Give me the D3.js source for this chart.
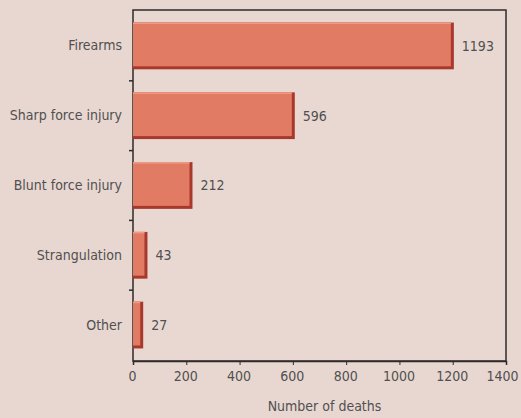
<!DOCTYPE html>
<html><head><meta charset="utf-8">
<script src="https://cdn.jsdelivr.net/npm/d3@7"></script>
<style>
html,body{margin:0;padding:0;background:#e8d7d0;}
svg{display:block;}
text{font-family:"Liberation Sans Narrow","DejaVu Sans Condensed","Liberation Sans",sans-serif;fill:#505050;}
</style></head>
<body>
<svg id="chart" width="521" height="418"></svg>
<script>
const categories = ["Firearms","Sharp force injury","Blunt force injury","Strangulation","Other"];
const values = [1193, 596, 212, 43, 27];
const xTicks = [0,200,400,600,800,1000,1200,1400];
const xTitle = "Number of deaths";

const svg = d3.select("#chart");
const W = 521, H = 418;
const m = {left:133, right:15, top:10, bottom:57};
const x = d3.scaleLinear().domain([0,1400]).range([m.left, W - m.right]);
const y = d3.scaleBand().domain(categories).range([m.top, H - m.bottom]).paddingInner(0.33).paddingOuter(0.18);

svg.append("rect").attr("width",W).attr("height",H).attr("fill","#e8d7d0");

const g = svg.append("g");
g.append("rect").attr("x",x(0)).attr("y",m.top).attr("width",x(1400)-x(0)).attr("height",(H-m.bottom)-m.top)
  .attr("fill","#e9d8d2").attr("stroke","#2e2a2a").attr("stroke-width",1.5);

const bars = g.selectAll(".bar").data(categories.map((c,i)=>({c, v:values[i]}))).enter().append("g");
bars.append("rect").attr("x",x(0)).attr("y",d=>y(d.c)).attr("width",d=>x(d.v)-x(0)+3).attr("height",y.bandwidth())
  .attr("fill","#a9382c");
bars.append("rect").attr("x",x(0)).attr("y",d=>y(d.c)).attr("width",d=>x(d.v)-x(0)).attr("height",y.bandwidth()-3)
  .attr("fill","#e27b63");
bars.append("rect").attr("x",x(0)).attr("y",d=>y(d.c)).attr("width",d=>x(d.v)-x(0)).attr("height",1.5)
  .attr("fill","#ee9c85");
bars.append("text").attr("x",d=>x(d.v)+11).attr("y",d=>y(d.c)+y.bandwidth()/2).attr("dy","0.35em")
  .attr("font-size",14).text(d=>d.v);

const xa = d3.axisBottom(x).tickValues(xTicks).tickSize(4).tickPadding(6).tickFormat(d3.format("d"));
const xg = svg.append("g").attr("transform",`translate(0,${H-m.bottom})`).call(xa);
xg.select(".domain").attr("stroke","#2e2a2a").attr("stroke-width",1.5);
xg.selectAll(".tick line").attr("stroke","#2e2a2a");
xg.selectAll(".tick text").attr("font-size",14).attr("fill","#505050").attr("dx",d=>d===1400?-4:-1);

const ya = d3.axisLeft(y).tickSize(0).tickPadding(11);
const yg = svg.append("g").attr("transform",`translate(${m.left},0)`).call(ya);
yg.select(".domain").remove();
yg.selectAll(".tick text").attr("font-size",14).attr("fill","#505050");
const bounds = categories.slice(1).map(c => y(c) - y.step()*y.paddingInner()/2);
svg.selectAll(".ytick").data(bounds).enter().append("line")
  .attr("x1",m.left-4).attr("x2",m.left).attr("y1",d=>d).attr("y2",d=>d)
  .attr("stroke","#2e2a2a").attr("stroke-width",1.5);

svg.append("text").attr("x",(x(0)+x(1400))/2+5).attr("y",H-7).attr("text-anchor","middle")
  .attr("font-size",14).text(xTitle);
svg.selectAll("text").style("font-family",null);
</script>
</body></html>
